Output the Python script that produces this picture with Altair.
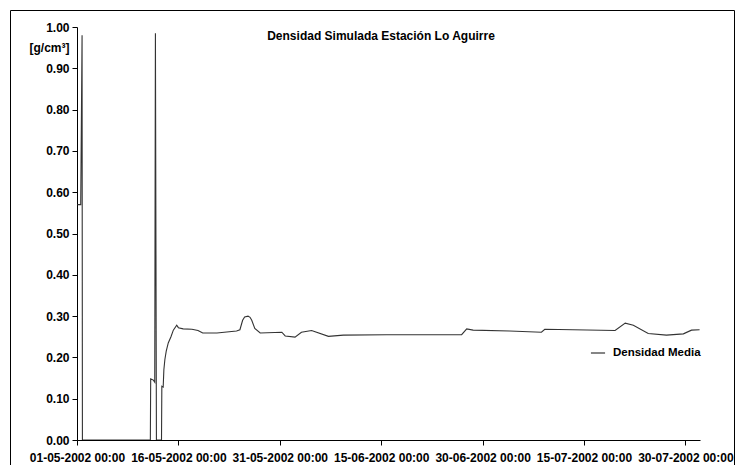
import altair as alt
import pandas as pd

# Days elapsed since 01-05-2002 00:00 and simulated density [g/cm3]
days = [0.05, 0.55, 0.75, 0.8, 10.85, 10.9, 11.3, 11.5, 11.6, 11.75, 12.5, 12.55,
        12.75, 12.85, 13.0, 13.2, 13.5, 13.9, 14.25, 14.75, 15.0, 15.7, 17.0, 17.9,
        18.6, 20.7, 23.6, 24.1, 24.5, 24.8, 25.3, 25.6, 25.85, 26.3, 27.1, 30.3,
        30.8, 32.25, 33.2, 34.7, 37.2, 39.4, 45.8, 56.9, 57.65, 58.6, 64.0, 68.7,
        69.2, 79.6, 81.1, 82.3, 84.5, 87.2, 89.7, 90.9, 92.1]
densidad = [0.57, 0.57, 0.98, 0.0, 0.0, 0.148, 0.145, 0.14, 0.985, 0.0, 0.0, 0.13,
            0.128, 0.17, 0.195, 0.215, 0.235, 0.25, 0.266, 0.278, 0.272, 0.269, 0.268, 0.265,
            0.259, 0.259, 0.264, 0.267, 0.29, 0.298, 0.300, 0.297, 0.29, 0.27, 0.259, 0.261,
            0.252, 0.249, 0.261, 0.265, 0.251, 0.254, 0.255, 0.255, 0.269, 0.266, 0.264, 0.261,
            0.268, 0.265, 0.283, 0.278, 0.258, 0.254, 0.257, 0.266, 0.267]
serie = "Densidad Media"
titulo = "Densidad Simulada Estación Lo Aguirre"
y_ticks = [0.0, 0.1, 0.2, 0.3, 0.4, 0.5, 0.6, 0.7, 0.8, 0.9, 1.0]
x_tick_days = [0, 15, 30, 45, 60, 75, 90]
x_end_day = 92.16

start = pd.Timestamp("2002-05-01 00:00", tz="UTC")


def to_ms(d):
    return int((start + pd.to_timedelta(d, unit="D")).value // 1_000_000)


df = pd.DataFrame({"t": [to_ms(d) for d in days], "v": densidad, "s": serie})

font = "Liberation Sans"

x_scale = alt.Scale(type="utc", domain=[to_ms(0), to_ms(x_end_day)], nice=False)

line = alt.Chart(df).mark_line(strokeWidth=1.1, clip=True).encode(
    x=alt.X("t:T", scale=x_scale,
            axis=alt.Axis(values=[to_ms(d) for d in x_tick_days],
                          labelExpr="utcFormat(datum.value, '%d-%m-%Y %H:%M')",
                          title=None, grid=False,
                          labelFont=font, labelFontSize=12, labelFontWeight="bold",
                          labelColor="black", domainColor="black", tickColor="black",
                          tickSize=5, labelPadding=7, labelFlush=False, labelOverlap=False)),
    y=alt.Y("v:Q", scale=alt.Scale(domain=[0, 1]),
            axis=alt.Axis(values=y_ticks, format=".2f", title="[g/cm³]", grid=False,
                          labelFont=font, labelFontSize=12, labelFontWeight="bold",
                          labelColor="black", domainColor="black", tickColor="black",
                          tickSize=5, labelPadding=3,
                          titleAngle=0, titleX=-48, titleY=20, titleAlign="left",
                          titleBaseline="middle", titleFont=font, titleFontSize=12,
                          titleFontWeight="bold", titleColor="black")),
    color=alt.Color("s:N", scale=alt.Scale(range=["#333333"]),
                    legend=alt.Legend(title=None, orient="none", legendX=513, legendY=318,
                                      symbolType="stroke", symbolSize=200, symbolStrokeWidth=1.2,
                                      labelFont=font, labelFontSize=11.5, labelFontWeight="bold",
                                      labelColor="black", labelOffset=7)),
)

title_df = pd.DataFrame({"txt": [titulo]})
title_mark = alt.Chart(title_df).mark_text(font=font, fontSize=12, fontWeight="bold",
                                           color="black", align="center", baseline="middle").encode(
    text="txt:N", x=alt.value(304), y=alt.value(9))

frame = alt.Chart(title_df).mark_rect(filled=False, stroke="black", strokeWidth=1).encode(
    x=alt.value(-66.5), x2=alt.value(657.5), y=alt.value(-16.5), y2=alt.value(445))

chart = alt.layer(frame, line, title_mark).properties(
    width=623, height=413,
    autosize=alt.AutoSizeParams(type="none"),
    padding={"left": 69, "top": 19, "right": 35, "bottom": 25},
    background="white",
).configure_view(stroke=None)

chart.save("out.html", embed_options={"renderer": "svg", "actions": False})
